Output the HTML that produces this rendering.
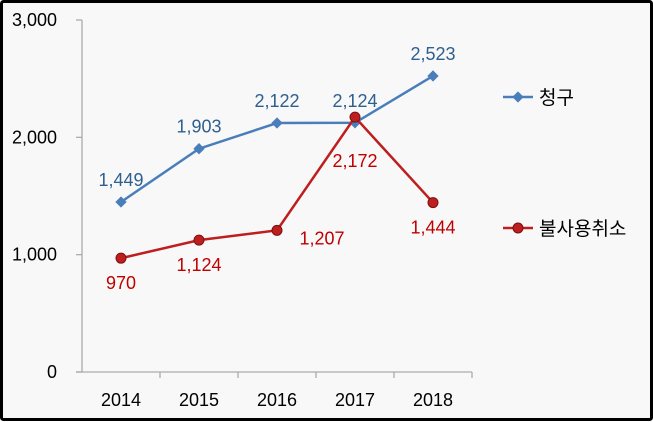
<!DOCTYPE html>
<html><head><meta charset="utf-8"><style>
body{margin:0;width:653px;height:422px;overflow:hidden;background:#fff}
svg{display:block;font-family:"Liberation Sans","Noto Sans CJK KR",sans-serif}
</style></head><body>
<svg width="653" height="422" viewBox="0 0 653 422">
<rect x="1.5" y="1.5" width="650" height="418" fill="#f8f8f8" stroke="#000" stroke-width="3" rx="2"/>
<g id="axes"></g><g id="series"></g>
<g>
<line x1="503" y1="97" x2="533" y2="97" stroke="#4a7ebb" stroke-width="2.5"/>
<rect x="514" y="93" width="8" height="8" fill="#4a7ebb" transform="rotate(45 518 97)"/>
<text x="539" y="104" font-size="19" fill="#000">청구</text>
<line x1="503" y1="228" x2="533" y2="228" stroke="#be1e1e" stroke-width="2.5"/>
<circle cx="518" cy="228" r="5" fill="#be1e1e" stroke="#7a1010"/>
<text x="539" y="235" font-size="19" fill="#000">불사용취소</text>
</g>
</svg>
<script>
const categories=["2014","2015","2016","2017","2018"];
const claim=[1449,1903,2122,2124,2523];
const cancel=[970,1124,1207,2172,1444];
const yTicks=[0,1000,2000,3000];
const yTickLabels=["0","1,000","2,000","3,000"];
const NS="http://www.w3.org/2000/svg";
const x0=82,x1=472,y0=372,y1=20,yMax=3000;
const bw=(x1-x0)/categories.length;
const xs=i=>x0+bw*(i+0.5);
const ys=v=>y0-(v/yMax)*(y0-y1);
const fmt=v=>v.toLocaleString("en-US");
function mk(tag,attrs,parent){const e=document.createElementNS(NS,tag);for(const k in attrs)e.setAttribute(k,attrs[k]);parent.appendChild(e);return e;}
const ax=document.getElementById("axes"),sg=document.getElementById("series");
let l=mk("line",{x1:x0,y1:y1,x2:x0,y2:y0,stroke:"#aaa","stroke-width":1.3},ax);


l=mk("line",{x1:x0-6,y1:y0,x2:x1,y2:y0,stroke:"#aaa","stroke-width":1.3},ax);


yTicks.forEach((t,i)=>{
 const tk=mk("line",{x1:x0-6,y1:ys(t),x2:x0,y2:ys(t),stroke:"#aaa","stroke-width":1.3},ax);
 
 
 const tx=mk("text",{x:x0-25,y:ys(t)+6,"text-anchor":"end","font-size":18,fill:"#000"},ax);
 tx.textContent=yTickLabels[i];
 
 
});
categories.forEach((c,i)=>{
 const tk=mk("line",{x1:x0+bw*(i+1),y1:y0,x2:x0+bw*(i+1),y2:y0+6,stroke:"#aaa","stroke-width":1.3},ax);
 
 
 const tx=mk("text",{x:xs(i),y:y0+34,"text-anchor":"middle","font-size":18,fill:"#000"},ax);
 tx.textContent=c;
 
 
});
function series(vals,color,labelColor,name,marker,labelPos){
 const p=mk("polyline",{points:vals.map((v,i)=>xs(i)+","+ys(v)).join(" "),fill:"none",stroke:color,"stroke-width":2.5},sg);
 
 
 vals.forEach((v,i)=>{
  let m;
  if(marker==="diamond"){m=mk("rect",{x:xs(i)-4,y:ys(v)-4,width:8,height:8,fill:color,transform:`rotate(45 ${xs(i)} ${ys(v)})`},sg);}
  else{m=mk("circle",{cx:xs(i),cy:ys(v),r:5,fill:color,stroke:"#7a1010"},sg);}
  
  
  const lp=labelPos[i];
  const t=mk("text",{x:xs(i)+lp[0],y:ys(v)+lp[1],"text-anchor":"middle","font-size":18,fill:labelColor},sg);
  t.textContent=fmt(v);
  
  
 });
}
series(claim,"#4a7ebb","#2f5f8f","claim","diamond",[[0,-16],[0,-16],[0,-16],[0,-16],[0,-16]]);
series(cancel,"#be1e1e","#c00000","cancel","circle",[[0,31],[0,31],[45,14],[0,50],[0,31]]);
</script>
</body></html>
